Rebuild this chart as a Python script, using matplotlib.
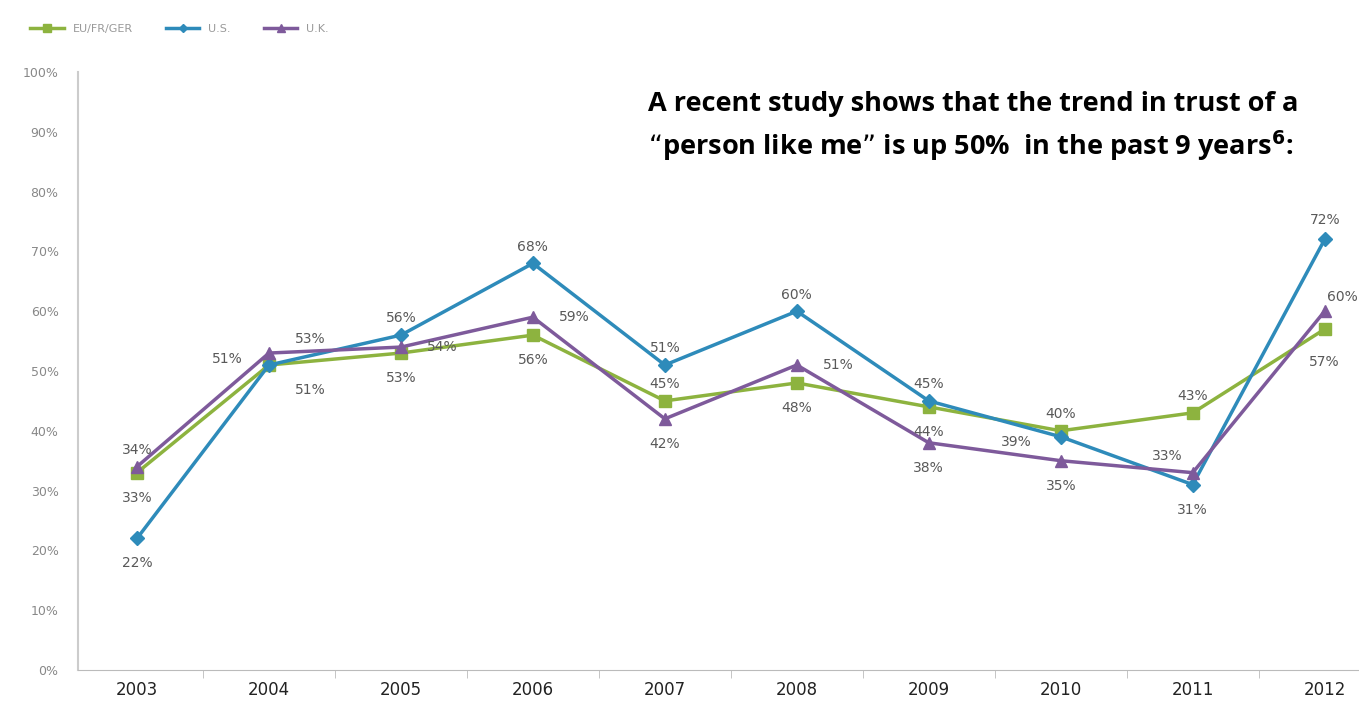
import matplotlib.pyplot as plt
from matplotlib.ticker import PercentFormatter

years = ['2003', '2004', '2005', '2006', '2007', '2008', '2009', '2010', '2011', '2012']
eu = [33, 51, 53, 56, 45, 48, 44, 40, 43, 57]
us = [22, 51, 56, 68, 51, 60, 45, 39, 31, 72]
uk = [34, 53, 54, 59, 42, 51, 38, 35, 33, 60]

# label offsets (points) for each data label
eu_off = [(0, -18), (-30, 4), (0, -18), (0, -18), (0, 12), (0, -18), (0, -18), (0, 12), (0, 12), (0, -24)]
us_off = [(0, -18), (30, -18), (0, 12), (0, 12), (0, 12), (0, 12), (0, 12), (-32, -4), (0, -18), (0, 14)]
uk_off = [(0, 12), (30, 10), (30, 0), (30, 0), (0, -18), (30, 0), (0, -18), (0, -18), (-18, 12), (13, 10)]

green = '#8DB33F'
blue = '#2E8BBA'
purple = '#7E5A9B'

fig = plt.figure(figsize=(13.59, 7.11), dpi=100)
ax = fig.add_axes([78 / 1359, 41 / 711, 1 - 78 / 1359, 598 / 711])
x = list(range(len(years)))

ax.plot(x, eu, color=green, lw=2.5, marker='s', ms=9, label='EU/FR/GER')
ax.plot(x, us, color=blue, lw=2.5, marker='D', ms=7, label='U.S.')
ax.plot(x, uk, color=purple, lw=2.5, marker='^', ms=9, label='U.K.')

for vals, offs in [(eu, eu_off), (us, us_off), (uk, uk_off)]:
    for i, v in enumerate(vals):
        ax.annotate(f'{v}%', (i, v), xytext=offs[i], textcoords='offset points',
                    ha='center', va='center', fontsize=10, color='#595959')

ax.set_yticks(range(0, 101, 10))
ax.yaxis.set_major_formatter(PercentFormatter(decimals=0))
ax.set_xticks(x)
ax.set_xticklabels(years, fontsize=12, color='#222222')
ax.set_xticks([i + 0.5 for i in range(-1, 10)], minor=True)
ax.tick_params(axis='y', labelsize=9, colors='#888888', length=0, pad=14)
ax.tick_params(axis='x', which='major', length=0, pad=8)
ax.tick_params(axis='x', which='minor', length=6, color='#bbbbbb')
ax.set_xlim(-0.447, 9.26)
ax.set_ylim(0, 100)
for s in ['top', 'right']:
    ax.spines[s].set_visible(False)
ax.spines['left'].set_color('#cccccc')
ax.spines['bottom'].set_color('#bbbbbb')
ax.spines['left'].set_linewidth(1.5)

fig.legend(loc='upper left', bbox_to_anchor=(0.015, 1 - 14 / 711), ncol=3, frameon=False,
           fontsize=8, labelcolor='#999999', handlelength=3, columnspacing=3, markerscale=0.6)

fig.text(648 / 1359, 1 - 104 / 711, 'A recent study shows that the trend in trust of a',
         fontsize=19.5, fontweight='bold', family='Open Sans', va='center', ha='left')
fig.text(648 / 1359, 1 - 146 / 711, '\u201cperson like me\u201d is up 50%  in the past 9 years$^{\\mathbf{6}}$:',
         fontsize=19.5, fontweight='bold', family='Open Sans', va='center', ha='left')

fig.savefig('out.png', dpi=100)
